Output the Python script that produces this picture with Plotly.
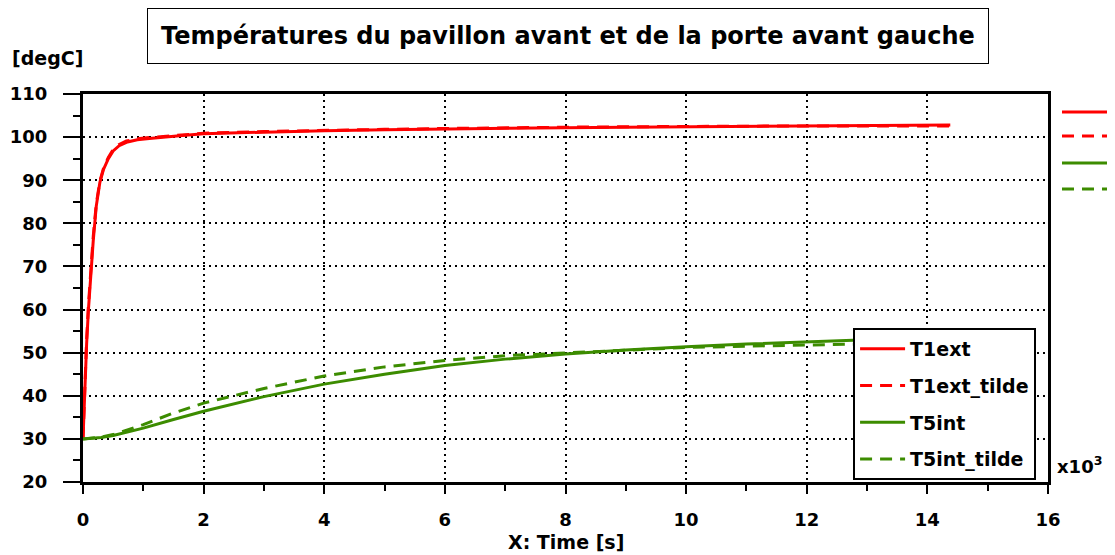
import plotly.graph_objects as go

# time in units of 10^3 s
t_red = [0, 0.03, 0.06, 0.09, 0.13, 0.17, 0.22, 0.28, 0.34, 0.42, 0.5, 0.6, 0.72, 0.9, 1.1, 1.3, 1.6, 2, 3, 4, 5, 6, 7, 8, 9, 10, 11, 12, 13, 14, 14.38]
t1ext = [30, 42, 52, 60, 69, 76, 84, 89.5, 92.5, 95, 96.8, 98, 98.8, 99.4, 99.7, 99.9, 100.3, 100.8, 101.2, 101.5, 101.7, 101.9, 102.1, 102.2, 102.3, 102.4, 102.5, 102.6, 102.7, 102.75, 102.8]
t1ext_tilde = [30, 43, 53, 61, 70, 77, 84.5, 89.8, 92.8, 95.3, 97.1, 98.3, 99.1, 99.6, 99.9, 100.1, 100.5, 100.9, 101.3, 101.6, 101.8, 102.0, 102.2, 102.3, 102.4, 102.5, 102.6, 102.6, 102.6, 102.6, 102.6]

t_green = [0, 0.3, 0.5, 1, 1.5, 2, 3, 4, 5, 6, 7, 8, 9, 10, 11, 12, 13, 14, 14.38]
t5int = [30, 30.3, 30.8, 32.5, 34.5, 36.4, 39.8, 42.7, 45.0, 47.0, 48.5, 49.7, 50.6, 51.4, 52.0, 52.5, 53.0, 53.3, 53.4]
t5int_tilde = [30, 30.4, 31.0, 33.3, 36.0, 38.3, 41.7, 44.6, 46.7, 48.2, 49.3, 49.9, 50.6, 51.2, 51.5, 51.8, 52.1, 52.3, 52.4]

RED = "#ff0000"
GREEN = "#3c8c00"
FONT = "DejaVu Sans"

fig = go.Figure()
series = [
    ("T1ext", t_red, t1ext, RED, "solid"),
    ("T1ext_tilde", t_red, t1ext_tilde, RED, "12px,8px"),
    ("T5int", t_green, t5int, GREEN, "solid"),
    ("T5int_tilde", t_green, t5int_tilde, GREEN, "12px,8px"),
]
for name, x, y, c, d in series:
    fig.add_trace(go.Scatter(x=x, y=y, mode="lines", name=name, legendgroup=name,
                             line=dict(color=c, width=3, dash=d)))

axis_common = dict(
    showline=True, linecolor="black", linewidth=3, mirror=True,
    ticks="outside", tickwidth=2, tickcolor="black",
    showgrid=True, gridcolor="black", gridwidth=2, griddash="2px,4px",
    zeroline=False, automargin=False,
    tickfont=dict(family=FONT, size=18, color="black", weight="bold"),
)
fig.update_xaxes(range=[0, 16], dtick=2, tick0=0, ticklen=9, ticklabelstandoff=10,
                 minor=dict(dtick=1, ticks="outside", ticklen=6, tickwidth=2, tickcolor="black", showgrid=False),
                 **axis_common)
fig.update_yaxes(range=[20, 110], dtick=10, tick0=20, ticklen=17, ticklabelstandoff=12,
                 minor=dict(dtick=5, ticks="outside", ticklen=7, tickwidth=2, tickcolor="black", showgrid=False),
                 **axis_common)

fig.update_layout(
    width=1115, height=555,
    margin=dict(l=75, r=75, t=86, b=81),
    paper_bgcolor="white", plot_bgcolor="white",
    font=dict(family=FONT, color="black"),
    legend=dict(x=0.798, y=0.397, xanchor="left", yanchor="top",
                bgcolor="white", bordercolor="black", borderwidth=2,
                font=dict(family=FONT, size=19, color="black", weight="bold"),
                tracegroupgap=9, itemwidth=45),
)

annots = [
    dict(text="Températures du pavillon avant et de la porte avant gauche",
         x=0.503, y=1.149, xanchor="center", yanchor="middle",
         font=dict(size=24, weight="bold"), bordercolor="black", borderwidth=1,
         borderpad=13, bgcolor="white"),
    dict(text="[degC]", x=-0.0756, y=1.093, xanchor="left", yanchor="middle",
         font=dict(size=19, weight="bold")),
    dict(text="X: Time [s]", x=0.5005, y=-0.155, xanchor="center", yanchor="middle",
         font=dict(size=19, weight="bold")),
    dict(text="x10<sup>3</sup>", x=(1055 - 83) / 965, y=0.045, xanchor="left", yanchor="middle",
         font=dict(size=18, weight="bold")),
]
for a in annots:
    fig.add_annotation(xref="paper", yref="paper", showarrow=False, **a)

# right-side legend swatches (truncated duplicate legend)
sw_y = [112, 136, 163, 189]
sw_c = [RED, RED, GREEN, GREEN]
sw_d = ["solid", "12px,8px", "solid", "12px,8px"]
for yy, c, d in zip(sw_y, sw_c, sw_d):
    yp = (482 - yy) / 388
    fig.add_shape(type="line", xref="paper", yref="paper",
                  x0=(1062 - 83) / 965, x1=(1110 - 83) / 965, y0=yp, y1=yp,
                  line=dict(color=c, width=3, dash=d))

fig.write_html("out.html")
